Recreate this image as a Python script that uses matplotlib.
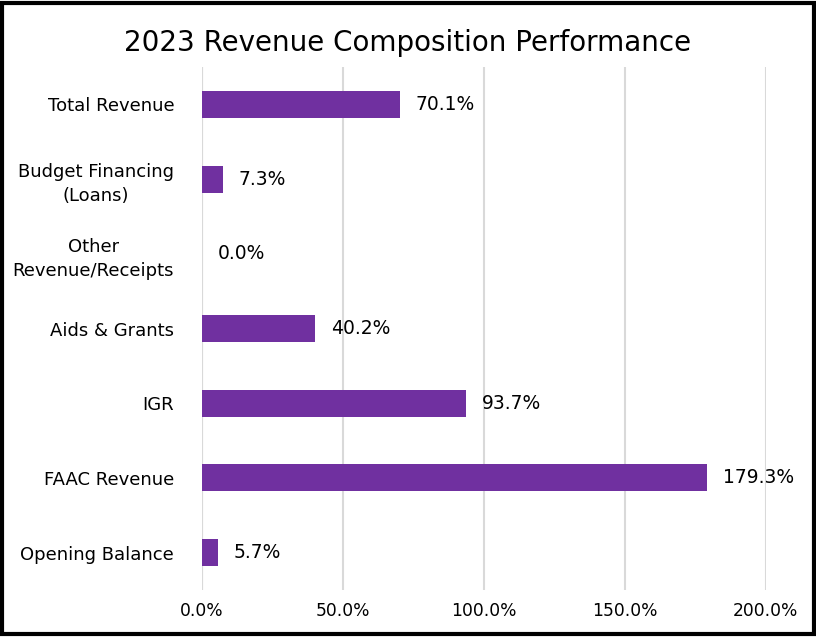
import matplotlib

matplotlib.use("Agg")
import matplotlib.pyplot as plt
from matplotlib.patches import Rectangle

# 2023 revenue composition performance (% of budget)
categories = [
    "Total Revenue",
    "Budget Financing\n(Loans)",
    "Other\nRevenue/Receipts",
    "Aids & Grants",
    "IGR",
    "FAAC Revenue",
    "Opening Balance",
]
performance = [70.1, 7.3, 0.0, 40.2, 93.7, 179.3, 5.7]
x_ticks = [0, 50, 100, 150, 200]

BAR_COLOR = "#7030A0"
GRID_COLOR = "#D9D9D9"

plt.rcParams["font.family"] = ["DejaVu Sans"]

fig = plt.figure(figsize=(8.16, 6.37), dpi=100)
ax = fig.add_axes([0.2475, 0.0738, 0.691, 0.821])

positions = list(range(len(categories)))
ax.barh(positions, performance, height=0.36, color=BAR_COLOR, zorder=3)
for pos, value in zip(positions, performance):
    ax.text(value + 5.5, pos, f"{value:.1f}%", va="center", ha="left", fontsize=13.5)

ax.set_xlim(0, 200)
ax.set_ylim(len(categories) - 0.5, -0.5)
ax.set_xticks(x_ticks)
ax.set_xticklabels([f"{t:.1f}%" for t in x_ticks], fontsize=12.3)
ax.set_yticks(positions)
ax.set_yticklabels(categories, fontsize=13, multialignment="center", linespacing=1.45)
ax.tick_params(axis="both", length=0)
ax.tick_params(axis="y", pad=20)
ax.tick_params(axis="x", pad=9)

ax.grid(axis="x", color=GRID_COLOR, linewidth=1.5, zorder=0)
ax.axvline(0, color=GRID_COLOR, linewidth=1.5, zorder=1)
for side in ax.spines.values():
    side.set_visible(False)

fig.suptitle("2023 Revenue Composition Performance", fontsize=20, y=0.955)

# black frame around the whole chart
fig.patches.append(Rectangle((0.003, 0.004), 0.994, 0.992, transform=fig.transFigure,
                             fill=False, edgecolor="black", linewidth=3))

fig.savefig("out.png", dpi=100)
